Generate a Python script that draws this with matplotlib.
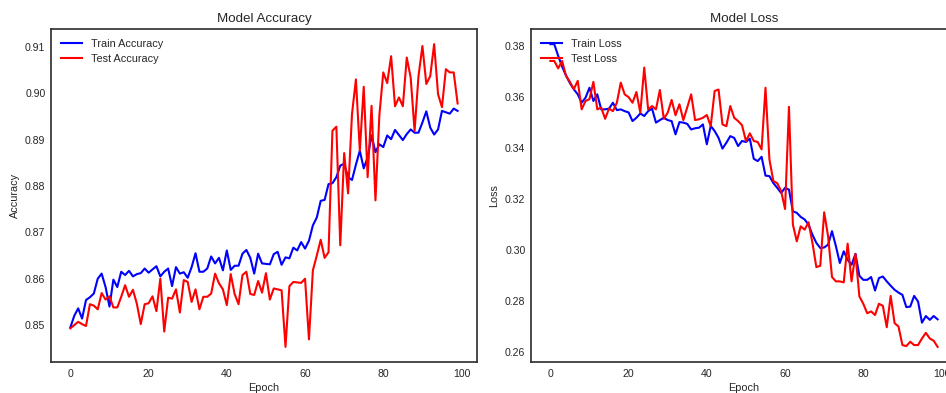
import matplotlib
matplotlib.use('Agg')
import matplotlib.pyplot as plt
import numpy as np

# values, one per epoch (0..99)
train_acc = [
    0.8495, 0.8520, 0.8536, 0.8514, 0.8554, 0.8560, 0.8568, 0.8600, 0.8611, 0.8582,
    0.8540, 0.8598, 0.8582, 0.8615, 0.8608, 0.8617, 0.8605, 0.8610, 0.8612, 0.8622,
    0.8613, 0.8620, 0.8627, 0.8605, 0.8615, 0.8622, 0.8584, 0.8625, 0.8611, 0.8614,
    0.8602, 0.8625, 0.8655, 0.8615, 0.8615, 0.8622, 0.8648, 0.8633, 0.8645, 0.8618,
    0.8661, 0.8619, 0.8628, 0.8628, 0.8654, 0.8662, 0.8645, 0.8611, 0.8654, 0.8633,
    0.8632, 0.8631, 0.8653, 0.8658, 0.8630, 0.8646, 0.8644, 0.8667, 0.8661, 0.8679,
    0.8665, 0.8682, 0.8715, 0.8732, 0.8768, 0.8770, 0.8804, 0.8806, 0.8819, 0.8844,
    0.8848, 0.8819, 0.8813, 0.8846, 0.8876, 0.8838, 0.8862, 0.8909, 0.8873, 0.8890,
    0.8884, 0.8909, 0.8901, 0.8921, 0.8910, 0.8899, 0.8912, 0.8922, 0.8915, 0.8915,
    0.8937, 0.8961, 0.8926, 0.8911, 0.8922, 0.8962, 0.8959, 0.8956, 0.8967, 0.8962,
]
test_acc = [
    0.8493, 0.8500, 0.8507, 0.8502, 0.8498, 0.8545, 0.8542, 0.8534, 0.8569, 0.8555,
    0.8562, 0.8538, 0.8538, 0.8561, 0.8586, 0.8561, 0.8576, 0.8546, 0.8502, 0.8545,
    0.8547, 0.8562, 0.8530, 0.8600, 0.8486, 0.8559, 0.8557, 0.8577, 0.8527, 0.8597,
    0.8593, 0.8550, 0.8577, 0.8534, 0.8561, 0.8561, 0.8568, 0.8611, 0.8590, 0.8577,
    0.8543, 0.8610, 0.8567, 0.8545, 0.8608, 0.8615, 0.8567, 0.8565, 0.8595, 0.8570,
    0.8612, 0.8555, 0.8579, 0.8577, 0.8575, 0.8453, 0.8584, 0.8593, 0.8592, 0.8591,
    0.8600, 0.8469, 0.8618, 0.8650, 0.8684, 0.8645, 0.8657, 0.8919, 0.8928, 0.8672,
    0.8871, 0.8784, 0.8955, 0.9030, 0.8876, 0.9014, 0.8819, 0.8973, 0.8769, 0.8953,
    0.9045, 0.9022, 0.9080, 0.8972, 0.8991, 0.8972, 0.9077, 0.9034, 0.8919, 0.9037,
    0.9102, 0.9020, 0.9037, 0.9106, 0.8998, 0.8970, 0.9052, 0.9045, 0.9045, 0.8978,
]
train_loss = [
    0.3808, 0.3808, 0.3762, 0.3720, 0.3685, 0.3655, 0.3631, 0.3611, 0.3578, 0.3598,
    0.3637, 0.3585, 0.3611, 0.3552, 0.3552, 0.3555, 0.3578, 0.3549, 0.3552, 0.3545,
    0.3540, 0.3506, 0.3519, 0.3536, 0.3526, 0.3545, 0.3555, 0.3500, 0.3510, 0.3519,
    0.3510, 0.3506, 0.3454, 0.3502, 0.3500, 0.3495, 0.3473, 0.3478, 0.3480, 0.3493,
    0.3415, 0.3487, 0.3467, 0.3440, 0.3398, 0.3421, 0.3447, 0.3440, 0.3408, 0.3428,
    0.3424, 0.3437, 0.3358, 0.3349, 0.3366, 0.3292, 0.3290, 0.3263, 0.3244, 0.3224,
    0.3244, 0.3237, 0.3152, 0.3146, 0.3130, 0.3120, 0.3100, 0.3060, 0.3028, 0.3008,
    0.3010, 0.3021, 0.3074, 0.3015, 0.2949, 0.2995, 0.2962, 0.2942, 0.2985, 0.2899,
    0.2883, 0.2883, 0.2894, 0.2841, 0.2890, 0.2896, 0.2877, 0.2860, 0.2844, 0.2833,
    0.2824, 0.2776, 0.2778, 0.2820, 0.2798, 0.2715, 0.2741, 0.2726, 0.2741, 0.2728,
]
test_loss = [
    0.3742, 0.3742, 0.3713, 0.3742, 0.3684, 0.3660, 0.3631, 0.3664, 0.3552, 0.3585,
    0.3592, 0.3660, 0.3552, 0.3559, 0.3515, 0.3555, 0.3545, 0.3578, 0.3657, 0.3611,
    0.3600, 0.3578, 0.3620, 0.3539, 0.3716, 0.3552, 0.3565, 0.3552, 0.3628, 0.3515,
    0.3539, 0.3589, 0.3529, 0.3572, 0.3510, 0.3560, 0.3611, 0.3510, 0.3513, 0.3519,
    0.3530, 0.3486, 0.3624, 0.3630, 0.3493, 0.3486, 0.3565, 0.3519, 0.3506, 0.3490,
    0.3428, 0.3458, 0.3428, 0.3424, 0.3395, 0.3637, 0.3356, 0.3271, 0.3262, 0.3231,
    0.3161, 0.3562, 0.3100, 0.3034, 0.3093, 0.3080, 0.3109, 0.3028, 0.2933, 0.2938,
    0.3148, 0.3054, 0.2894, 0.2877, 0.2877, 0.2873, 0.3025, 0.2877, 0.2985, 0.2818,
    0.2789, 0.2752, 0.2759, 0.2745, 0.2789, 0.2781, 0.2697, 0.2820, 0.2713, 0.2700,
    0.2627, 0.2623, 0.2640, 0.2627, 0.2627, 0.2653, 0.2675, 0.2653, 0.2644, 0.2620,
]
epochs = np.arange(len(train_acc))

plt.rcParams['font.family'] = ['Liberation Sans', 'DejaVu Sans']
plt.rcParams['text.color'] = '.15'
plt.rcParams['axes.labelcolor'] = '.15'
plt.rcParams['xtick.color'] = '.15'
plt.rcParams['ytick.color'] = '.15'
plt.rcParams['axes.edgecolor'] = '.2'
plt.rcParams['axes.linewidth'] = 1.25
plt.rcParams['xtick.major.size'] = 0
plt.rcParams['ytick.major.size'] = 0
plt.rcParams['xtick.major.pad'] = 5
plt.rcParams['ytick.major.pad'] = 4

fig = plt.figure(figsize=(9.46, 3.93), dpi=100)
ax1 = fig.add_axes([0.0539, 0.0789, 0.4503, 0.8473])
# the right panel runs past the figure edge, as in the reference crop
ax2 = fig.add_axes([0.5613, 0.0789, 0.4503, 0.8473])


def draw_panel(ax, train, test, title, ylabel, labels):
    ax.plot(epochs, train, color='blue', lw=1.5, label=labels[0])
    ax.plot(epochs, test, color='red', lw=1.5, label=labels[1])
    ax.set_title(title, fontsize=9.6, pad=5)
    ax.set_xlabel('Epoch', fontsize=7.8, labelpad=3)
    ax.set_ylabel(ylabel, fontsize=7.8, labelpad=4)
    ax.set_xticks([0, 20, 40, 60, 80, 100])
    ax.tick_params(labelsize=7.6)
    ax.legend(loc='upper left', frameon=False, fontsize=7.8)


draw_panel(ax1, train_acc, test_acc, 'Model Accuracy', 'Accuracy',
           ['Train Accuracy', 'Test Accuracy'])
ax1.set_yticks([0.85, 0.86, 0.87, 0.88, 0.89, 0.90, 0.91])

draw_panel(ax2, train_loss, test_loss, 'Model Loss', 'Loss',
           ['Train Loss', 'Test Loss'])
ax2.set_yticks([0.26, 0.28, 0.30, 0.32, 0.34, 0.36, 0.38])

fig.savefig('out.png', dpi=100)
